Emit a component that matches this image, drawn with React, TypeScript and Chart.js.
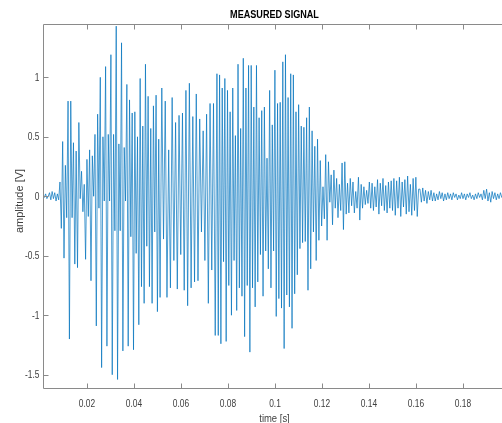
import { useEffect, useRef } from "react";
import { Chart, registerables } from "chart.js";

Chart.register(...registerables);

// ---- text ----
const TITLE = "MEASURED SIGNAL";
const X_LABEL = "time [s]";
const Y_LABEL = "amplitude [V]";

// ---- axes ----
const X_MIN = 0.00128;
const X_MAX = 0.1983;
const Y_MIN = -1.62;
const Y_MAX = 1.448;
const xTicks = [0.02, 0.04, 0.06, 0.08, 0.1, 0.12, 0.14, 0.16, 0.18];
const xTickLabels = ["0.02", "0.04", "0.06", "0.08", "0.1", "0.12", "0.14", "0.16", "0.18"];
const yTicks = [-1.5, -1, -0.5, 0, 0.5, 1];
const yTickLabels = ["-1.5", "-1", "-0.5", "0", "0.5", "1"];

// ---- signal: alternating peak values, per time segment ----
const segmentStarts = [0.00128, 0.0085, 0.0217, 0.0511, 0.0753, 0.1123, 0.1506, 0.1617];
const segmentEnd = 0.1983;

const sigNoise = [0.01, -0.01, 0.02, -0.02, 0.0, 0.03, -0.03, 0.04, -0.02, 0.03, -0.04, 0.02, -0.03];
const sigOnset = [0.12, -0.27, 0.46, -0.52, 0.26, -0.18, 0.8, -1.2, 0.8, -0.18, 0.45, -0.57, 0.38, -0.6, 0.62, -0.02, 0.21, -0.13, 0.1, -0.53, 0.31, -0.17, 0.39];
const sigPeak = [-0.71, 0.34, 0.0, 0.52, -1.09, 0.69, -0.1, 1.0, -1.44, 0.5, -0.04, 1.09, -1.26, 0.52, -0.04, 1.19, -1.5, 0.52, -0.29, 1.43, -1.54, 0.44, -0.29, 1.29, -1.3, 0.41, -0.04, 0.94, -1.26, 0.81, -0.34, 0.7, -1.29, 0.71, -0.48, 0.5, -1.08, 0.99, -0.76, 0.59, -0.9, 1.11, -0.42, 0.84, -0.76, 0.57, -0.9, 0.76, -0.3, 0.85, -0.97, 0.48];
const sigMiddle = [-0.85, 0.91, -0.36, 0.8, -0.85, 0.39, -0.77, 0.83, -0.54, 0.62, -0.78, 0.68, -0.49, 0.7, -0.79, 0.89, -0.92, 0.95, -0.77, 0.67, -0.72, 0.86, -0.71, 0.65, -0.3, 0.55, -0.54, 0.69, -0.9, 0.78, -0.62, 0.78, -1.17];
const sigSecond = [1.03, -1.17, 1.02, -1.24, 0.91, -0.55, 0.99, -1.22, 0.89, -0.75, 0.71, -1.0, 0.91, -0.54, 0.51, -0.96, 1.11, -0.77, 0.57, -0.84, 1.16, -1.18, 0.91, -0.75, 1.1, -1.31, 1.1, -0.77, 0.75, -0.93, 1.1, -0.72, 0.66, -0.49, 0.72, -0.84, 0.75, -0.46, 0.32, -0.61, 0.89, -0.77, 0.6, -0.46, 1.06, -1.01, 0.78, -0.86, 0.79, -0.94, 1.13, -1.28, 1.19, -0.83, 0.83, -0.93, 1.03, -1.11, 1.02, -0.82, 0.71, -0.66, 0.77, -0.44, 0.59, -0.39];
const sigDecay = [0.58, -0.38, 0.66, -0.79, 0.75, -0.61, 0.55, -0.3, 0.42, -0.54, 0.48, -0.37, 0.3, -0.25, 0.08, -0.19, 0.35, -0.37, 0.29, -0.05, 0.18, -0.24, 0.22, -0.1, 0.15, -0.18, 0.1, -0.12, 0.28, -0.28, 0.29, -0.15, 0.11, -0.14, 0.15, -0.08, 0.12, -0.14, 0.04, -0.1, 0.16, -0.2, 0.1, -0.1, 0.08, -0.07, 0.05, -0.06, 0.12, -0.1, 0.11, -0.12, 0.08, -0.09, 0.14, -0.15, 0.11, -0.08, 0.15, -0.12, 0.09, -0.14, 0.12, -0.1, 0.13, -0.12];
const sigBurst = [0.15, -0.16, 0.13, -0.1, 0.16, -0.17, 0.12, -0.09, 0.14, -0.15, 0.17, -0.13, 0.1, -0.16, 0.15, -0.12, 0.16, -0.17, 0.06];
const sigTail = [0.06, -0.05, 0.07, -0.04, 0.05, -0.06, 0.04, -0.03, 0.05, -0.04, 0.03, -0.04, 0.02, -0.03, 0.04, -0.02, 0.03, -0.04, 0.02, -0.03, 0.03, -0.02, 0.02, -0.03, 0.03, -0.01, 0.02, -0.03, 0.01, -0.02, 0.03, -0.02, 0.02, -0.03, 0.02, -0.01, 0.03, -0.02, 0.01, -0.03, 0.02, -0.02, 0.03, -0.01, 0.02, -0.03, 0.05, -0.02, 0.06, -0.04, 0.03, -0.05, 0.04, -0.02, 0.03, -0.03, 0.02, -0.02, 0.03, -0.01, 0.02, -0.02, 0.01];

const segments = [sigNoise, sigOnset, sigPeak, sigMiddle, sigSecond, sigDecay, sigBurst, sigTail];

function buildPoints() {
  const pts: { x: number; y: number }[] = [];
  segments.forEach((seg, i) => {
    const last = i + 1 >= segmentStarts.length;
    const t0 = segmentStarts[i];
    const t1 = last ? segmentEnd : segmentStarts[i + 1];
    const n = seg.length;
    seg.forEach((v, k) => {
      const t = last ? t0 + ((t1 - t0) * k) / (n - 1) : t0 + ((t1 - t0) * k) / n;
      pts.push({ x: t, y: v });
    });
  });
  return pts;
}

const FONT = "'Liberation Sans', Arial, Helvetica, sans-serif";
const AXIS_COLOR = "#8a8a8a";
const TEXT_COLOR = "#404040";
const LINE_COLOR = "#0072BD";

const W = 511;
const H = 423;

function drawText(ctx: CanvasRenderingContext2D, text: string, x: number, y: number, font: string, align: CanvasTextAlign, sx: number) {
  ctx.save();
  ctx.translate(x, y);
  ctx.scale(sx, 1);
  ctx.font = font;
  ctx.textAlign = align;
  ctx.textBaseline = "alphabetic";
  ctx.fillText(text, 0, 0);
  ctx.restore();
}

const framePlugin = {
  id: "matlabFrame",
  afterDraw(chart: any) {
    const { ctx, chartArea } = chart;
    const { left, right, top, bottom } = chartArea;
    const xs = chart.scales.x;
    const ys = chart.scales.y;
    ctx.save();
    ctx.strokeStyle = AXIS_COLOR;
    ctx.lineWidth = 1;
    const L = Math.round(left) + 0.5;
    const R = Math.round(right) - 0.5;
    const T = Math.round(top) + 0.5;
    const B = Math.round(bottom) - 0.5;
    ctx.beginPath();
    ctx.moveTo(L, T);
    ctx.lineTo(R, T);
    ctx.lineTo(R, B);
    ctx.lineTo(L, B);
    ctx.closePath();
    ctx.stroke();
    const tl = 5;
    ctx.beginPath();
    xTicks.forEach((v) => {
      const px = Math.round(xs.getPixelForValue(v)) + 0.5;
      ctx.moveTo(px, B);
      ctx.lineTo(px, B - tl);
      ctx.moveTo(px, T);
      ctx.lineTo(px, T + tl);
    });
    yTicks.forEach((v) => {
      const py = Math.round(ys.getPixelForValue(v)) + 0.5;
      ctx.moveTo(L, py);
      ctx.lineTo(L + tl, py);
    });
    ctx.stroke();

    // tick labels, placed through the scales
    ctx.fillStyle = TEXT_COLOR;
    xTicks.forEach((v, i) => {
      drawText(ctx, xTickLabels[i], xs.getPixelForValue(v), B + 18, `10px ${FONT}`, "center", 0.84);
    });
    yTicks.forEach((v, i) => {
      drawText(ctx, yTickLabels[i], L - 4, ys.getPixelForValue(v) + 3.6, `10px ${FONT}`, "right", 0.84);
    });

    const cx = (left + right) / 2;
    ctx.fillStyle = "#000";
    drawText(ctx, TITLE, cx, 18.4, `bold 11.5px ${FONT}`, "center", 0.79);

    ctx.fillStyle = TEXT_COLOR;
    drawText(ctx, X_LABEL, cx, 422, `11px ${FONT}`, "center", 0.86);

    ctx.save();
    ctx.translate(23, 201);
    ctx.rotate(-Math.PI / 2);
    ctx.font = `11px ${FONT}`;
    ctx.textAlign = "center";
    ctx.textBaseline = "alphabetic";
    ctx.fillText(Y_LABEL, 0, 0);
    ctx.restore();
    ctx.restore();
  },
};

export default function App() {
  const ref = useRef<HTMLCanvasElement | null>(null);
  useEffect(() => {
    if (!ref.current) return;
    const chart = new Chart(ref.current, {
      type: "line",
      data: {
        datasets: [
          {
            data: buildPoints(),
            borderColor: LINE_COLOR,
            borderWidth: 0.7,
            pointRadius: 0,
            tension: 0,
            fill: false,
          },
        ],
      },
      options: {
        animation: false,
        responsive: false,
        maintainAspectRatio: false,
        parsing: false,
        normalized: true,
        layout: { padding: { top: 24, right: 5, left: 0, bottom: 0 } },
        plugins: {
          legend: { display: false },
          title: { display: false },
          tooltip: { enabled: false },
        },
        scales: {
          x: {
            type: "linear",
            min: X_MIN,
            max: X_MAX,
            grid: { display: false, drawTicks: false },
            border: { display: false },
            afterBuildTicks: (s: any) => {
              s.ticks = xTicks.map((v) => ({ value: v }));
            },
            afterFit: (s: any) => {
              s.height = 34;
            },
            ticks: { display: false },
          },
          y: {
            type: "linear",
            min: Y_MIN,
            max: Y_MAX,
            grid: { display: false, drawTicks: false },
            border: { display: false },
            afterBuildTicks: (s: any) => {
              s.ticks = yTicks.map((v) => ({ value: v }));
            },
            afterFit: (s: any) => {
              s.width = 43;
            },
            ticks: { display: false },
          },
        },
      },
      plugins: [framePlugin],
    } as any);
    return () => chart.destroy();
  }, []);

  return (
    <div
      style={{
        position: "fixed",
        left: 0,
        top: 0,
        width: 502,
        height: H,
        overflow: "hidden",
        background: "#fff",
      }}
    >
      <div style={{ width: W, height: H }}>
        <canvas ref={ref} width={W} height={H} style={{ display: "block", width: W, height: H }} />
      </div>
    </div>
  );
}
